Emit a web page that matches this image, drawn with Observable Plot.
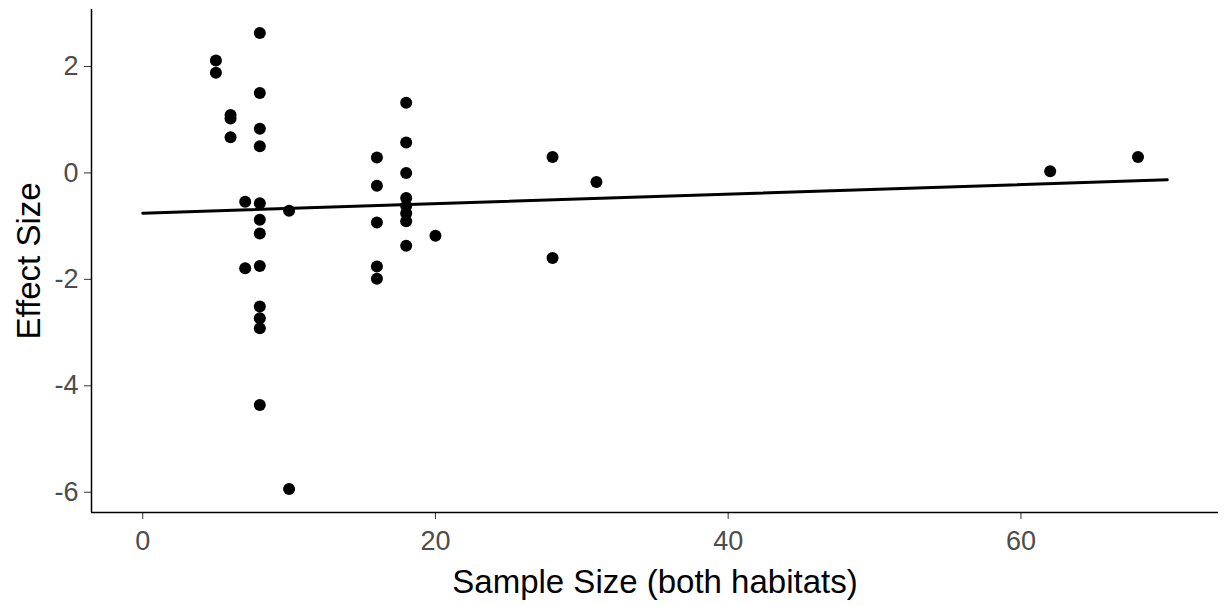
<!DOCTYPE html>
<html><head><meta charset="utf-8">
<script src="https://cdn.jsdelivr.net/npm/d3@7"></script>
<script src="https://cdn.jsdelivr.net/npm/@observablehq/plot@0.6"></script>
<style>
body{margin:0;background:#fff;}
#chart svg{display:block;font-family:"Liberation Sans",Arial,sans-serif;background:#fff;}
</style>
</head><body><div id="chart"></div>
<script>
const sampleSize = [
  5,5,
  6,6,6,
  7,7,
  8,8,8,8,8,8,8,8,8,8,8,8,
  10,10,
  16,16,16,16,16,
  18,18,18,18,18,18,18,18,
  20,
  28,28,
  31,62,68
];
const effectSize = [
  2.11,1.88,
  1.09,1.02,0.67,
  -0.54,-1.79,
  2.63,1.50,0.83,0.50,-0.57,-0.88,-1.14,-1.75,-2.51,-2.73,-2.92,-4.36,
  -0.71,-5.94,
  0.29,-0.24,-0.93,-1.76,-1.99,
  1.32,0.57,0.00,-0.47,-0.62,-0.76,-0.91,-1.37,
  -1.18,
  0.30,-1.60,
  -0.17,0.03,0.30
];
const xTicks = [0,20,40,60];
const yTicks = [-6,-4,-2,0,2];
const xDomain = [-3.5, 73.5];
const yDomain = [-6.38, 3.07];
const fitRange = [0, 70];
const fitIntercept = -0.756;
const fitSlope = 0.00894;
const xTitle = "Sample Size (both habitats)";
const yTitle = "Effect Size";

const points = sampleSize.map((x, i) => ({x, y: effectSize[i]}));
const fit = fitRange.map(x => ({x, y: fitIntercept + fitSlope * x}));
const fmt = d => String(d);

const chart = Plot.plot({
  width: 1224,
  height: 606,
  marginLeft: 91,
  marginRight: 6,
  marginTop: 9,
  marginBottom: 94,
  style: {background: "#fff", fontFamily: "'Liberation Sans', Arial, sans-serif"},
  x: {domain: xDomain, ticks: xTicks},
  y: {domain: yDomain, ticks: yTicks},
  marks: [
    Plot.axisX({ticks: xTicks, tickFormat: fmt, tickSize: 7, tickPadding: 11, fontSize: 27, stroke: "#333", fill: "#4d4d4d", label: null}),
    Plot.axisY({ticks: yTicks, tickFormat: fmt, tickSize: 7, tickPadding: 6, fontSize: 27, stroke: "#333", fill: "#4d4d4d", label: null}),
    Plot.ruleX([xDomain[0]], {stroke: "black", strokeWidth: 1.5}),
    Plot.ruleY([yDomain[0]], {stroke: "black", strokeWidth: 1.5}),
    Plot.dot(points, {x: "x", y: "y", r: 6, fill: "black", stroke: null}),
    Plot.line(fit, {x: "x", y: "y", stroke: "black", strokeWidth: 3}),
    Plot.text([xTitle], {frameAnchor: "bottom", dy: 80, fontSize: 33, fill: "black", text: d => d}),
    Plot.text([yTitle], {frameAnchor: "left", textAnchor: "middle", lineAnchor: "middle", dx: -62, rotate: -90, fontSize: 33, fill: "black", text: d => d})
  ]
});
document.getElementById("chart").appendChild(chart);
</script>
</body></html>
